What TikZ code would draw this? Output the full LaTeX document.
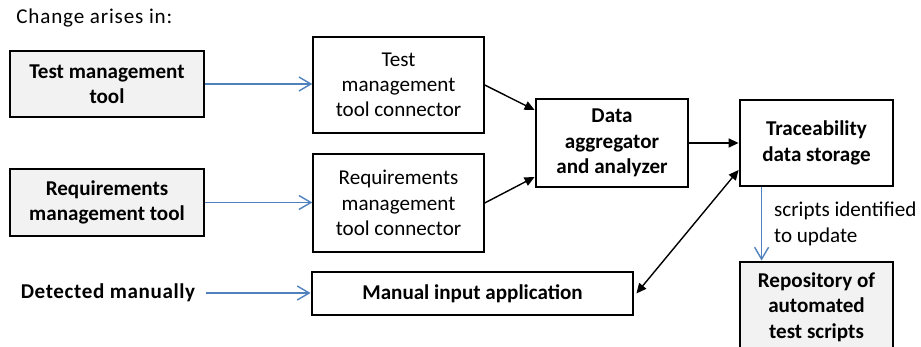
\documentclass[tikz,border=0pt]{standalone}
\usepackage{fontspec}
\setmainfont{Carlito}
\usepackage{tikz}
\usetikzlibrary{positioning, arrows.meta, calc}
\definecolor{TrBlue}{RGB}{79,129,189}
\definecolor{TrGray}{RGB}{242,242,242}

\begin{document}
\begin{tikzpicture}[
          font=\fontsize{12}{14.4}\selectfont,
          box/.style={rectangle, draw, line width=0.8pt, align=center, inner sep=2pt},
          tbox/.style={box, line width=1.6pt, font=\fontsize{12}{14.4}\selectfont\bfseries},
          gbox/.style={tbox, fill=TrGray},
          barr/.style={-{Straight Barb[length=2.4mm, width=2.8mm]}, TrBlue, line width=0.8pt},
          karr/.style={-{Triangle[length=2mm, width=1.8mm]}, line width=0.8pt}
        ]
        \useasboundingbox (0,0) rectangle (18.42,-6.94);

        % Heading
        \node[anchor=west, inner sep=0pt] (head) at (0.32,-0.36)
              {\addfontfeatures{LetterSpace=4}Change arises in:};

        % Sources of change
        \node[gbox, minimum width=3.88cm, minimum height=1.32cm]
              (tmt) at (2.14,-1.68) {Test management\\tool};
        \node[gbox, minimum width=3.88cm, minimum height=1.34cm]
              (rmt) at (2.14,-4.05) {Requirements\\management tool};
        \node[font=\fontsize{12}{14.4}\selectfont\bfseries, inner sep=0pt]
              (det) at (2.16,-5.86) {\addfontfeatures{LetterSpace=3}Detected manually};

        % Connectors
        \node[box, minimum width=3.42cm, minimum height=1.92cm]
              (tmc) at (7.97,-1.70) {Test\\management\\tool connector};
        \node[box, minimum width=3.42cm, minimum height=1.96cm]
              (rmc) at (7.97,-4.06) {Requirements\\management\\tool connector};
        \node[tbox, minimum width=6.42cm, minimum height=0.86cm]
              (mia) at (9.45,-5.87) {Manual input application};

        \draw[barr] (tmt.east) -- (tmt.east -| tmc.west);
        \draw[barr] (rmt.east) -- (rmt.east -| rmc.west);
        \draw[barr] ([xshift=0.2cm]det.east) -- (det.east -| mia.west);

        % Aggregation
        \node[tbox, minimum width=3.04cm, minimum height=1.76cm]
              (dag) at (12.24,-2.86) {Data\\aggregator\\and analyzer};
        \draw[karr] (tmc.east) -- ([yshift=0.66cm]dag.west);
        \draw[karr] (rmc.east) -- ([yshift=-0.68cm]dag.west);

        % Storage
        \node[tbox, minimum width=3.06cm, minimum height=1.72cm]
              (tds) at (16.33,-2.86) {Traceability\\data storage};
        \draw[karr] (dag.east) -- (tds.west);
        \draw[karr, {Triangle[length=2mm, width=1.8mm]}-{Triangle[length=2mm, width=1.8mm]}]
              ([xshift=0.04cm]mia.east) -- ([yshift=-0.54cm]tds.west);

        % Repository (runs off the bottom edge)
        \node[gbox, minimum width=3.06cm, minimum height=1.8cm]
              (rep) at (16.33,-6.14) {Repository of\\automated\\test scripts};
        \draw[barr] ([xshift=0.46cm]tds.south west) -- ([xshift=0.46cm]rep.north west)
              node[midway, right=0.12cm, align=left, text=black] (upd)
              {scripts identified\\to update};
      \end{tikzpicture}
\end{document}
